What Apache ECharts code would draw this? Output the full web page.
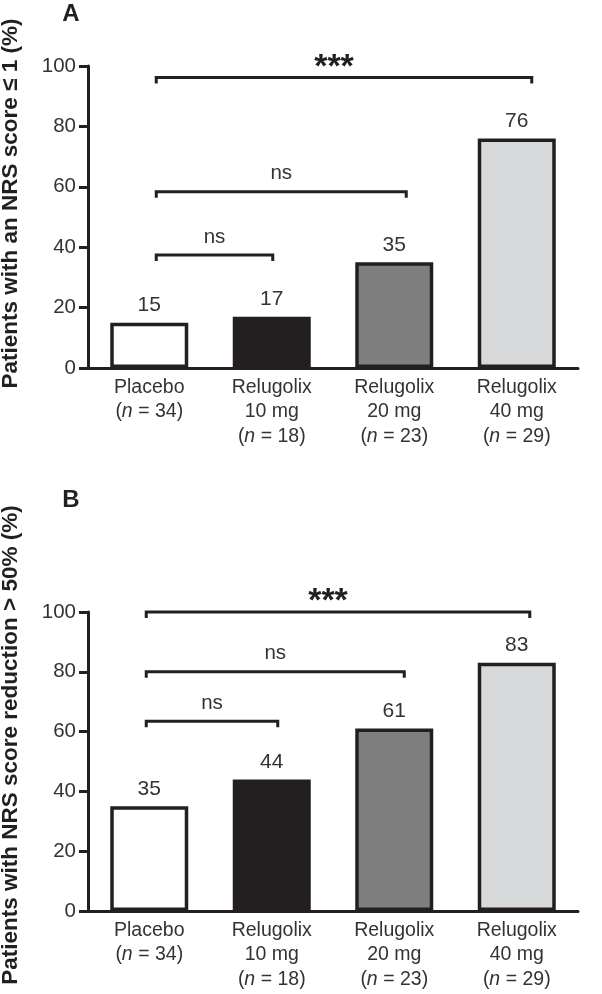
<!DOCTYPE html>
<html><head><meta charset="utf-8">
<script src="https://cdn.jsdelivr.net/npm/echarts@6/dist/echarts.min.js"></script>
<style>html,body{margin:0;padding:0;background:#fff}#c{width:602px;height:994px}</style>
</head><body><div id="c"></div>
<script>
// ---- data ----
const categories = ['Placebo', 'Relugolix 10 mg', 'Relugolix 20 mg', 'Relugolix 40 mg'];
const catNameLines = [['Placebo'], ['Relugolix', '10 mg'], ['Relugolix', '20 mg'], ['Relugolix', '40 mg']];
const sampleSizes = [34, 18, 23, 29];
const valuesA = [15, 17, 35, 76];
const valuesB = [35, 44, 61, 83];
const yTickValues = [0, 20, 40, 60, 80, 100];
const titleA = 'Patients with an NRS score \u2264 1 (%)';
const titleB = 'Patients with NRS score reduction > 50% (%)';
const panelLetters = ['A', 'B'];
// brackets: [fromCategory, toCategory, yValue, label]
const bracketsA = [[0, 1, 37.4, 'ns'], [0, 2, 58.4, 'ns'], [0, 3, 96.2, '***']];
const bracketsB = [[0, 1, 63.5, 'ns'], [0, 2, 80, 'ns'], [0, 3, 100, '***']];

// ---- style / layout ----
const FONT = '"Liberation Sans", Arial, Helvetica, sans-serif';
const INK = '#231f20';
const TXT = '#333333';
const barColors = ['#ffffff', '#231f20', '#7f7f7f', '#d8d9da'];
const nudgeA = { left: 7, right: [1, 12, 15] };
const nudgeB = { left: -3, right: [6, 10, 13] };

const chart = echarts.init(document.getElementById('c'), null, { renderer: 'canvas' });

function catFormatter(value, idx) {
  const lines = catNameLines[idx].map(s => '{r|' + s + '}');
  lines.push('{r|(}{i|n}{r| = ' + sampleSizes[idx] + ')}');
  return lines.join('\n');
}

function xAxisFor(gi) {
  return {
    type: 'category', gridIndex: gi, data: categories,
    axisLine: { show: true, lineStyle: { color: INK, width: 3 } },
    axisTick: { show: false },
    axisLabel: {
      margin: 7, formatter: catFormatter, interval: 0,
      rich: {
        r: { fontFamily: FONT, fontSize: 19.5, color: TXT, lineHeight: 24.5 },
        i: { fontFamily: FONT, fontSize: 19.5, color: TXT, lineHeight: 24.5, fontStyle: 'italic' }
      }
    }
  };
}
function yAxisFor(gi) {
  return {
    type: 'value', gridIndex: gi, min: yTickValues[0], max: yTickValues[yTickValues.length - 1],
    interval: yTickValues[1] - yTickValues[0],
    splitLine: { show: false },
    axisLine: { show: true, lineStyle: { color: INK, width: 3 } },
    axisTick: { show: true, length: 9, lineStyle: { color: INK, width: 3 } },
    axisLabel: { margin: 12, fontFamily: FONT, fontSize: 20.5, color: TXT }
  };
}
function barSeries(gi, values) {
  return {
    type: 'bar', xAxisIndex: gi, yAxisIndex: gi, barWidth: 78,
    data: values.map((v, i) => ({ value: v, itemStyle: { color: barColors[i] } })),
    itemStyle: { borderColor: INK, borderWidth: 3.5 },
    label: { show: true, position: 'top', distance: 7, fontFamily: FONT, fontSize: 21, color: TXT },
    silent: true, animation: false
  };
}
function bracketSeries(gi, brackets, nudge) {
  return {
    type: 'custom', xAxisIndex: gi, yAxisIndex: gi, clip: false, z: 5, animation: false, silent: true,
    dimensions: [{ name: 'from', type: 'number' }, { name: 'to', type: 'number' }, { name: 'y', type: 'number' }],
    encode: { x: [0, 1], y: 2 },
    data: brackets.map(b => [b[0], b[1], b[2]]),
    renderItem: function (params, api) {
      const b = brackets[params.dataIndex];
      const p1 = api.coord([api.value(0), api.value(2)]);
      const p2 = api.coord([api.value(1), api.value(2)]);
      const x1 = p1[0] + nudge.left;
      const x2 = p2[0] + nudge.right[b[1] - 1];
      const y = p1[1];
      const stars = b[3] === '***';
      return {
        type: 'group',
        children: [
          { type: 'polyline', shape: { points: [[x1, y + 6], [x1, y], [x2, y], [x2, y + 6]] },
            style: { stroke: INK, lineWidth: 3, fill: null, lineJoin: 'miter', lineCap: 'butt' } },
          { type: 'text', x: (x1 + x2) / 2 + (stars ? -10 : 0), y: y - (stars ? 10 : 18),
            style: { text: b[3], align: 'center', verticalAlign: 'middle',
              fontFamily: FONT, fontSize: stars ? 34 : 20.5, fontWeight: stars ? 'bold' : 'normal',
              fill: stars ? INK : TXT } }
        ]
      };
    }
  };
}

const option = {
  animation: false,
  backgroundColor: '#ffffff',
  grid: [
    { left: 88, width: 490, top: 66, height: 302 },
    { left: 88, width: 490, top: 612, height: 299 }
  ],
  xAxis: [xAxisFor(0), xAxisFor(1)],
  yAxis: [yAxisFor(0), yAxisFor(1)],
  series: [
    barSeries(0, valuesA), bracketSeries(0, bracketsA, nudgeA),
    barSeries(1, valuesB), bracketSeries(1, bracketsB, nudgeB)
  ],
  graphic: [
    { type: 'text', x: 71, y: 14, style: { text: panelLetters[0], align: 'center', verticalAlign: 'middle', fontFamily: FONT, fontSize: 24, fontWeight: 'bold', fill: INK } },
    { type: 'text', x: 71, y: 500, style: { text: panelLetters[1], align: 'center', verticalAlign: 'middle', fontFamily: FONT, fontSize: 24, fontWeight: 'bold', fill: INK } },
    { type: 'text', x: 11, y: 203.5, rotation: Math.PI / 2, style: { text: titleA, align: 'center', verticalAlign: 'middle', fontFamily: FONT, fontSize: 22.5, fontWeight: 'bold', fill: INK } },
    { type: 'text', x: 11, y: 745, rotation: Math.PI / 2, style: { text: titleB, align: 'center', verticalAlign: 'middle', fontFamily: FONT, fontSize: 22.5, fontWeight: 'bold', fill: INK } }
  ]
};
chart.setOption(option);
</script>
</body></html>
